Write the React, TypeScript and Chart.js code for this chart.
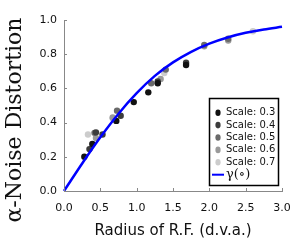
import React, { useEffect, useRef } from "react";
import { Chart, registerables } from "chart.js";

Chart.register(...registerables);

const s03X = [0.28, 0.39, 0.72, 0.96, 1.16, 1.29, 1.68];
const s03Y = [0.2, 0.275, 0.41, 0.52, 0.577, 0.63, 0.737];
const s04X = [0.35, 0.44, 0.53, 0.78, 1.29, 1.68];
const s04Y = [0.245, 0.343, 0.33, 0.44, 0.64, 0.75];
const s05X = [0.42, 0.73, 1.2, 1.4, 1.93, 2.26];
const s05Y = [0.34, 0.47, 0.63, 0.71, 0.854, 0.89];
const s06X = [0.44, 0.67, 1.33, 1.93, 2.26];
const s06Y = [0.31, 0.43, 0.655, 0.846, 0.88];
const s07X = [0.33, 0.67, 1.38, 2.6];
const s07Y = [0.33, 0.425, 0.69, 0.934];

const curveX = [0, 0.25, 0.5, 0.75, 1.0, 1.25, 1.5, 1.75, 2.0, 2.25, 2.5, 2.75, 3.0];
const curveY = [0, 0.161, 0.314, 0.452, 0.572, 0.673, 0.752, 0.814, 0.862, 0.898, 0.925, 0.945, 0.96];

const xTicks = [0, 0.5, 1.0, 1.5, 2.0, 2.5, 3.0];
const yTicks = [0, 0.2, 0.4, 0.6, 0.8, 1.0];

const scaleLabels = ["Scale: 0.3", "Scale: 0.4", "Scale: 0.5", "Scale: 0.6", "Scale: 0.7"];
const scaleColors = ["#111111", "#3c3c3c", "#6a6a6a", "#9a9a9a", "#cccccc"];
const curveLabel = "γ(∘)";
const yTitle = "α-Noise Distortion";

const zip = (xs: number[], ys: number[]) => xs.map((x, i) => ({ x, y: ys[i] }));

const inwardTicks = {
  id: "inwardTicks",
  afterDatasetsDraw(chart: any) {
    const { ctx, chartArea, scales } = chart;
    ctx.save();
    ctx.strokeStyle = "#888";
    ctx.lineWidth = 1;
    ctx.beginPath();
    xTicks.forEach((t) => {
      const px = Math.round(scales.x.getPixelForValue(t)) + 0.5;
      ctx.moveTo(px, chartArea.bottom);
      ctx.lineTo(px, chartArea.bottom - 3);
    });
    yTicks.forEach((t) => {
      const py = Math.round(scales.y.getPixelForValue(t)) + 0.5;
      ctx.moveTo(chartArea.left, py);
      ctx.lineTo(chartArea.left + 3, py);
    });
    ctx.stroke();
    ctx.restore();
  },
};

const yTitlePlugin = {
  id: "yTitlePlugin",
  afterDraw(chart: any) {
    const { ctx } = chart;
    ctx.save();
    ctx.translate(21, 120);
    ctx.rotate(-Math.PI / 2);
    ctx.fillStyle = "#111";
    ctx.font = '22px "DejaVu Serif"';
    ctx.textAlign = "center";
    ctx.textBaseline = "alphabetic";
    ctx.fillText(yTitle, 0, 0);
    ctx.restore();
  },
};

const boxLegend = {
  id: "boxLegend",
  afterDraw(chart: any) {
    const { ctx } = chart;
    const left = 209.5, top = 98.5, w = 69, h = 87;
    ctx.save();
    ctx.fillStyle = "#fff";
    ctx.fillRect(left, top, w, h);
    ctx.strokeStyle = "#000";
    ctx.lineWidth = 1.5;
    ctx.strokeRect(left, top, w, h);
    ctx.font = '10px "DejaVu Sans"';
    ctx.textBaseline = "middle";
    ctx.textAlign = "left";
    const rowY = (i: number) => 112.7 + i * 12.4;
    scaleLabels.forEach((lab, i) => {
      const y = rowY(i);
      ctx.fillStyle = scaleColors[i];
      ctx.beginPath();
      ctx.ellipse(218, y, 2.6, 3.3, 0, 0, Math.PI * 2);
      ctx.fill();
      ctx.fillStyle = "#111";
      ctx.fillText(lab, 226, y);
    });
    const y = rowY(5);
    ctx.strokeStyle = "#0000ff";
    ctx.lineWidth = 2;
    ctx.beginPath();
    ctx.moveTo(212, y);
    ctx.lineTo(224, y);
    ctx.stroke();
    ctx.fillStyle = "#111";
    ctx.font = '13px "DejaVu Serif"';
    ctx.fillText(curveLabel, 226, y);
    ctx.restore();
  },
};

export default function App() {
  const ref = useRef<HTMLCanvasElement>(null);
  useEffect(() => {
    document.body.style.margin = "0";
    const datasets: any[] = [
      {
        type: "line",
        label: curveLabel,
        data: zip(curveX, curveY),
        borderColor: "#0000ff",
        borderWidth: 2.5,
        pointRadius: 0,
        cubicInterpolationMode: "monotone",
        fill: false,
        clip: false,
        order: 0,
      },
      ...[
        [s03X, s03Y],
        [s04X, s04Y],
        [s05X, s05Y],
        [s06X, s06Y],
        [s07X, s07Y],
      ].map(([xs, ys], i) => ({
        type: "scatter",
        label: scaleLabels[i],
        data: zip(xs, ys),
        backgroundColor: scaleColors[i],
        borderColor: scaleColors[i],
        pointRadius: 3.2,
        pointBorderWidth: 0,
        order: 1 + i,
      })),
    ];
    const chart = new Chart(ref.current!, {
      type: "scatter",
      data: { datasets },
      options: {
        animation: false,
        responsive: false,
        layout: { padding: { left: 0, right: 9, top: 20, bottom: 0 } },
        plugins: { legend: { display: false }, tooltip: { enabled: false } },
        scales: {
          x: {
            type: "linear",
            min: 0,
            max: 3,
            afterBuildTicks: (s: any) => {
              s.ticks = xTicks.map((v) => ({ value: v }));
            },
            afterFit: (s: any) => {
              s.height = 49;
              s.paddingLeft = 0;
              s.paddingRight = 0;
            },
            grid: { display: true, drawOnChartArea: false, drawTicks: false, color: "#888" },
            border: { display: true, color: "#888", width: 1 },
            ticks: {
              color: "#111",
              font: { family: "DejaVu Sans", size: 11 },
              padding: 11,
              maxRotation: 0,
              callback: (v: any) => Number(v).toFixed(1),
            },
            title: {
              display: true,
              text: "Radius of R.F. (d.v.a.)",
              color: "#111",
              font: { family: "DejaVu Sans", size: 15 },
              padding: { top: 2, bottom: 0 },
            },
          },
          y: {
            type: "linear",
            min: 0,
            max: 1,
            afterBuildTicks: (s: any) => {
              s.ticks = yTicks.map((v) => ({ value: v }));
            },
            afterFit: (s: any) => {
              s.width = 64;
              s.paddingTop = 0;
              s.paddingBottom = 0;
            },
            grid: { display: true, drawOnChartArea: false, drawTicks: false, color: "#888" },
            border: { display: true, color: "#888", width: 1 },
            ticks: {
              color: "#111",
              font: { family: "DejaVu Sans", size: 11 },
              padding: 7,
              callback: (v: any) => Number(v).toFixed(1),
            },
            title: { display: false },
          },
        },
      },
      plugins: [inwardTicks, boxLegend, yTitlePlugin],
    });
    return () => chart.destroy();
  }, []);
  return <canvas ref={ref} width={291} height={240} style={{ display: "block" }} />;
}
